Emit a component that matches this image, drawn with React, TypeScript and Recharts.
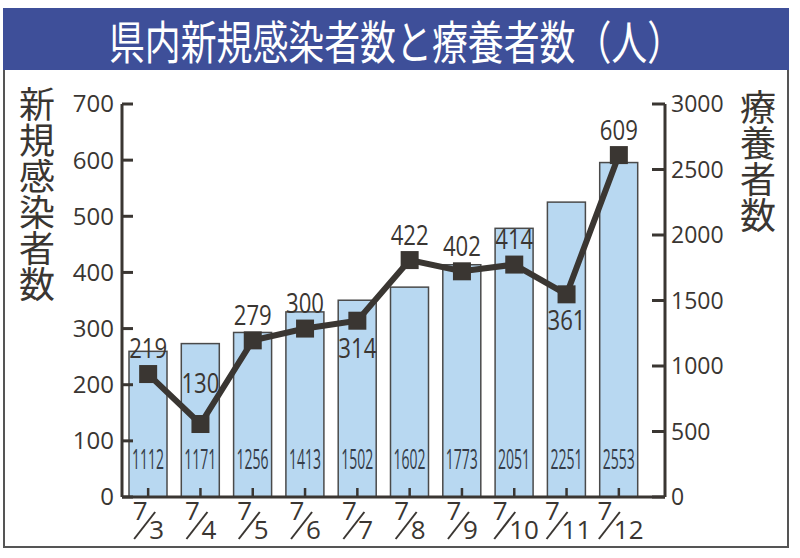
import { Bar, ComposedChart, Line, XAxis, YAxis } from 'recharts'

const dates = ['7/3', '7/4', '7/5', '7/6', '7/7', '7/8', '7/9', '7/10', '7/11', '7/12']
const newCases = [219, 130, 279, 300, 314, 422, 402, 414, 361, 609]
const patients = [1112, 1171, 1256, 1413, 1502, 1602, 1773, 2051, 2251, 2553]
const leftTicks = [0, 100, 200, 300, 400, 500, 600, 700]
const rightTicks = [0, 500, 1000, 1500, 2000, 2500, 3000]

// where the line's value labels sit relative to the marker (default: above)
const labelShift: Record<string, number> = { '7/4': -40, '7/7': 28, '7/11': 26 }

const data = dates.map((date, i) => ({ date, newCases: newCases[i], patients: patients[i] }))

const ink = '#3a3632'
const jp = '"Noto Sans CJK JP", sans-serif'
const num = '"Open Sans", "Noto Sans", sans-serif'

function LeftTick({ x, y, payload }: any) {
  return (
    <g>
      <line x1={x} x2={x + 11} y1={y} y2={y} stroke={ink} strokeWidth={3} />
      <text x={x - 8} y={y} dy="0.35em" textAnchor="end" fontSize={24} fontFamily={num} fill={ink}>
        {payload.value}
      </text>
    </g>
  )
}

function RightTick({ x, y, payload }: any) {
  return (
    <g>
      <line x1={x - 13} x2={x} y1={y} y2={y} stroke={ink} strokeWidth={3} />
      <text x={x + 6} y={y} dy="0.35em" textAnchor="start" fontSize={23} fontFamily={num} fill={ink}>
        {payload.value}
      </text>
    </g>
  )
}

function DateTick({ x, y, payload }: any) {
  const [m, d] = String(payload.value).split('/')
  const two = d.length > 1
  const cx = two ? x - 6 : x
  return (
    <g>
      <line x1={x} x2={x} y1={y - 9} y2={y} stroke={ink} strokeWidth={2.5} />
      <text x={cx - 8} y={y + 23} textAnchor="middle" fontSize={26} fontFamily={num} fill={ink}>{m}</text>
      <line x1={cx - 14} y1={y + 42} x2={cx + 7} y2={y + 15} stroke={ink} strokeWidth={2} />
      <text x={cx + 1} y={y + 42} textAnchor="start" fontSize={26} fontFamily={num} fill={ink}>{d}</text>
    </g>
  )
}

function PatientBar({ x, y, width, height, payload }: any) {
  const bottom = y + height
  return (
    <g>
      <rect x={x} y={y} width={width} height={height} fill="#b8d8f1" stroke="#4a4a4a" strokeWidth={1.5} />
      <text
        transform={`translate(${x + width / 2}, ${bottom - 28}) scale(1, 1.35)`}
        textAnchor="middle"
        fontSize={20}
        fontFamily={num}
        fill="#343c48"
        textLength={32}
        lengthAdjust="spacingAndGlyphs"
      >
        {payload.patients}
      </text>
    </g>
  )
}

function CaseDot({ cx, cy, index, payload }: any) {
  const shift = labelShift[payload.date] ?? -25
  return (
    <g key={index}>
      <rect x={cx - 9} y={cy - 9} width={18} height={18} fill={ink} />
      <text
        x={cx}
        y={cy + shift}
        dy="0.35em"
        textAnchor="middle"
        fontSize={27}
        fontFamily={num}
        fill={ink}
        textLength={38}
        lengthAdjust="spacingAndGlyphs"
      >
        {payload.newCases}
      </text>
    </g>
  )
}

function App() {
  return (
    <div style={{ position: 'absolute', left: 0, top: 0, width: 800, height: 558, background: '#fff' }}>
      <div
        style={{
          position: 'absolute', left: 3, top: 8, width: 786, height: 540,
          border: '2px solid #555', boxSizing: 'border-box',
        }}
      />
      <div
        style={{
          position: 'absolute', left: 3, top: 8, width: 786, height: 62, background: '#3e4f99',
          display: 'flex', alignItems: 'center', justifyContent: 'center',
        }}
      >
        <span
          style={{
            color: '#fff', fontFamily: jp, fontSize: 46, lineHeight: 1,
            transform: 'scaleX(0.78)', whiteSpace: 'nowrap', display: 'inline-block',
          }}
        >
          県内新規感染者数と療養者数（人）
        </span>
      </div>
      <div
        style={{
          position: 'absolute', left: 19, top: 86, writingMode: 'vertical-rl',
          fontFamily: jp, fontSize: 36, lineHeight: 1, color: ink,
        }}
      >
        新規感染者数
      </div>
      <div
        style={{
          position: 'absolute', left: 740, top: 89, writingMode: 'vertical-rl',
          fontFamily: jp, fontSize: 36, lineHeight: 1, color: ink,
        }}
      >
        療養者数
      </div>
      <div style={{ position: 'absolute', left: 0, top: 0 }}>
        <ComposedChart
          width={800}
          height={558}
          data={data}
          margin={{ top: 104, right: 75, bottom: 11, left: 62 }}
          barCategoryGap={0}
        >
          <XAxis
            dataKey="date"
            padding={{ left: 0, right: 20 }}
            axisLine={{ stroke: ink, strokeWidth: 3 }}
            tickLine={false}
            tickSize={0}
            tickMargin={0}
            height={50}
            interval={0}
            tick={<DateTick />}
          />
          <YAxis
            yAxisId="left"
            orientation="left"
            domain={[0, 700]}
            ticks={leftTicks}
            width={60}
            axisLine={{ stroke: ink, strokeWidth: 3 }}
            tickLine={false}
            tickSize={0}
            tickMargin={0}
            tick={<LeftTick />}
          />
          <YAxis
            yAxisId="right"
            orientation="right"
            domain={[0, 3000]}
            ticks={rightTicks}
            width={60}
            axisLine={{ stroke: ink, strokeWidth: 3 }}
            tickLine={false}
            tickSize={0}
            tickMargin={0}
            tick={<RightTick />}
          />
          <Bar yAxisId="right" dataKey="patients" barSize={38} shape={<PatientBar />} isAnimationActive={false} />
          <Line
            yAxisId="left"
            dataKey="newCases"
            type="linear"
            stroke={ink}
            strokeWidth={6}
            dot={(p: any) => <CaseDot key={p.index} {...p} />}
            activeDot={false}
            isAnimationActive={false}
          />
        </ComposedChart>
      </div>
    </div>
  )
}

export default App
